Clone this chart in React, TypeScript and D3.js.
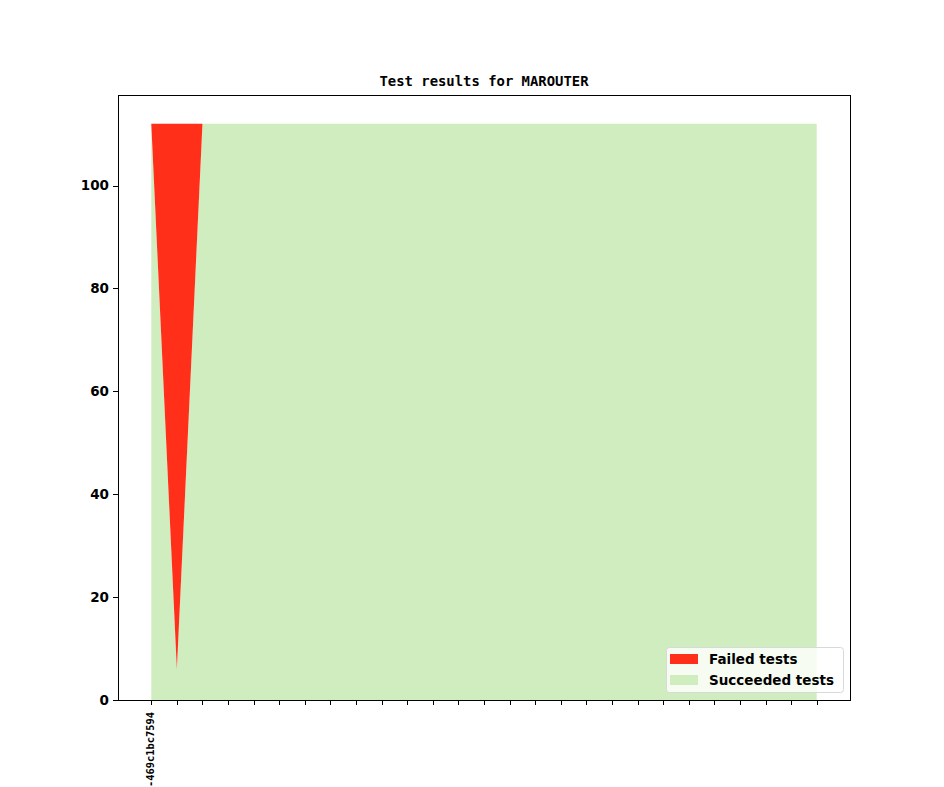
import * as d3 from "d3";
import { useEffect, useRef } from "react";

const W = 944;
const H = 787;

const commits = [
  "2019.05-469c1bc7594", "", "", "", "", "", "", "", "", "", "", "", "", "",
  "", "", "", "", "", "", "", "", "", "", "", "", "",
];
const succeeded = [
  112, 6, 112, 112, 112, 112, 112, 112, 112, 112, 112, 112, 112, 112,
  112, 112, 112, 112, 112, 112, 112, 112, 112, 112, 112, 112, 112,
];
const failed = [
  0, 106, 0, 0, 0, 0, 0, 0, 0, 0, 0, 0, 0, 0,
  0, 0, 0, 0, 0, 0, 0, 0, 0, 0, 0, 0, 0,
];
const yTicks = [0, 20, 40, 60, 80, 100];
const seriesNames = ["Failed tests", "Succeeded tests"];
const seriesColors = ["#ff2f1a", "#cfedbf"];

export default function App() {
  const ref = useRef<SVGSVGElement>(null);

  useEffect(() => {
    const svg = d3.select(ref.current);
    svg.selectAll("*").remove();

    const m = { left: 118, right: 850, top: 95, bottom: 700 };
    const n = commits.length;
    const pad = (n - 1) * 0.05;
    const x = d3.scaleLinear().domain([-pad, n - 1 + pad]).range([m.left, m.right]);
    const maxTotal = d3.max(succeeded.map((s, i) => s + failed[i])) as number;
    const y = d3.scaleLinear().domain([0, maxTotal * 1.05]).range([m.bottom, m.top]);

    const rows = commits.map((c, i) => ({ i, succeeded: succeeded[i], failed: failed[i] }));
    const stacked = d3.stack<any>().keys(["succeeded", "failed"])(rows);

    const area = d3
      .area<any>()
      .x((d) => x(d.data.i))
      .y0((d) => y(d[0]))
      .y1((d) => y(d[1]));

    svg.append("rect").attr("width", W).attr("height", H).attr("fill", "#fff");

    const colorOf: Record<string, string> = {
      succeeded: seriesColors[1],
      failed: seriesColors[0],
    };

    svg
      .append("g")
      .selectAll("path")
      .data(stacked)
      .join("path")
      .attr("d", (s) => area(s) as string)
      .attr("fill", (s) => colorOf[s.key]);

    // frame
    svg
      .append("rect")
      .attr("x", m.left + 0.5)
      .attr("y", m.top + 0.5)
      .attr("width", m.right - m.left)
      .attr("height", m.bottom - m.top)
      .attr("fill", "none")
      .attr("stroke", "#000")
      .attr("stroke-width", 1);

    // y axis
    const yAxis = svg.append("g");
    yTicks.forEach((t) => {
      const yy = Math.round(y(t)) + 0.5;
      yAxis
        .append("line")
        .attr("x1", m.left - 5)
        .attr("x2", m.left)
        .attr("y1", yy)
        .attr("y2", yy)
        .attr("stroke", "#000");
      yAxis
        .append("text")
        .attr("x", m.left - 9)
        .attr("y", y(t))
        .attr("dy", "0.36em")
        .attr("text-anchor", "end")
        .attr("font-family", "DejaVu Sans")
        .attr("font-weight", "bold")
        .attr("font-size", 13.5)
        .text(t);
    });

    // x axis
    const xAxis = svg.append("g");
    commits.forEach((c, i) => {
      const xx = Math.round(x(i)) + 0.5;
      xAxis
        .append("line")
        .attr("x1", xx)
        .attr("x2", xx)
        .attr("y1", m.bottom)
        .attr("y2", m.bottom + 5)
        .attr("stroke", "#000");
      if (c) {
        xAxis
          .append("text")
          .attr("transform", `translate(${x(i) - 1},${m.bottom + 12}) rotate(-90)`)
          .attr("text-anchor", "end")
          .attr("dy", "0.36em")
          .attr("font-family", "DejaVu Sans Mono")
          .attr("font-weight", "bold")
          .attr("font-size", 10.4)
          .text(c);
      }
    });

    // title
    svg
      .append("text")
      .attr("x", (m.left + m.right) / 2)
      .attr("y", 86)
      .attr("text-anchor", "middle")
      .attr("font-family", "DejaVu Sans Mono")
      .attr("font-weight", "bold")
      .attr("font-size", 13.9)
      .text("Test results for MAROUTER");

    // legend
    const lg = svg.append("g").attr("transform", "translate(666,647)");
    lg.append("rect")
      .attr("x", 0.5)
      .attr("y", 0.5)
      .attr("width", 177)
      .attr("height", 45)
      .attr("rx", 3)
      .attr("fill", "#fff")
      .attr("fill-opacity", 0.8)
      .attr("stroke", "#d9d9d9");
    seriesNames.forEach((name, k) => {
      lg.append("rect")
        .attr("x", 4)
        .attr("y", 7 + k * 21)
        .attr("width", 28)
        .attr("height", 10)
        .attr("fill", seriesColors[k]);
      lg.append("text")
        .attr("x", 43)
        .attr("y", 12 + k * 21)
        .attr("dy", "0.36em")
        .attr("font-family", "DejaVu Sans")
        .attr("font-weight", "bold")
        .attr("font-size", 13.5)
        .text(name);
    });
  }, []);

  return (
    <svg
      ref={ref}
      width={W}
      height={H}
      style={{ position: "absolute", left: 0, top: 0 }}
    />
  );
}
